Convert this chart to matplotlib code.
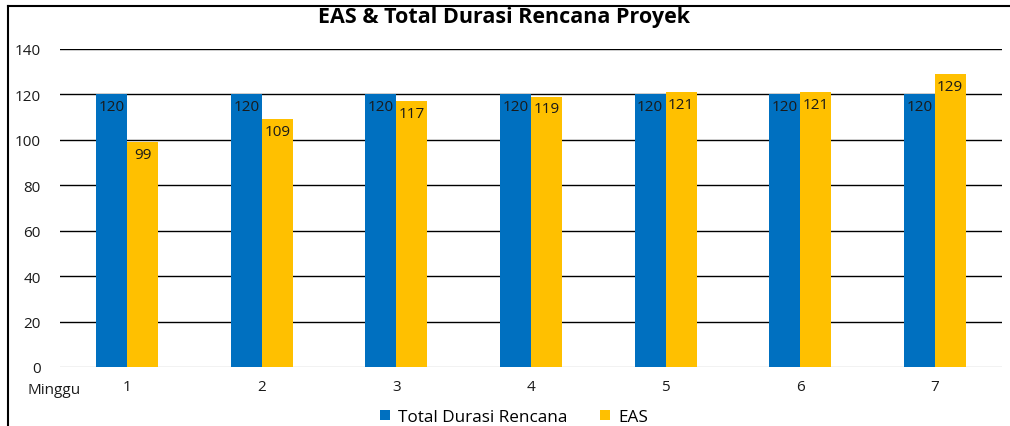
import numpy as np
import matplotlib.pyplot as plt
from matplotlib.lines import Line2D

plt.rcParams['font.family'] = ['Open Sans', 'DejaVu Sans']

minggu = ['1', '2', '3', '4', '5', '6', '7']
total_durasi = [120, 120, 120, 120, 120, 120, 120]
eas = [99, 109, 117, 119, 121, 121, 129]

blue = '#0070C0'
gold = '#FFC000'

fig = plt.figure(figsize=(10.1, 4.27), dpi=100)
ax = fig.add_axes([60 / 1010, 1 - 368 / 427, 942 / 1010, 318 / 427])

x = np.arange(len(minggu))
w = 0.23
b1 = ax.bar(x - w / 2, total_durasi, w, color=blue, zorder=3, label='Total Durasi Rencana')
b2 = ax.bar(x + w / 2, eas, w, color=gold, zorder=3, label='EAS')

for rect, v in zip(b1, total_durasi):
    ax.text(rect.get_x() + rect.get_width() / 2, v - 2.0, str(v), ha='center', va='top',
            fontsize=11, color='#1a1a1a', zorder=4)
for rect, v in zip(b2, eas):
    ax.text(rect.get_x() + rect.get_width() / 2, v - 2.0, str(v), ha='center', va='top',
            fontsize=11, color='#1a1a1a', zorder=4)

ax.set_xlim(-0.5, len(minggu) - 0.5)
ax.set_ylim(0, 140)
ax.set_yticks(range(0, 141, 20))
for yv in range(20, 141, 20):
    ax.axhline(yv, color='black', lw=1.0, zorder=1)
ax.axhline(0, color='#bfbfbf', lw=1.0, zorder=1)

for s in ax.spines.values():
    s.set_visible(False)
ax.tick_params(axis='both', length=0, labelsize=11, colors='#1a1a1a')
ax.tick_params(axis='y', pad=14)
ax.tick_params(axis='x', pad=9)
ax.set_xticks(x)
ax.set_xticklabels(minggu)

fig.text(54 / 1010, 1 - 391 / 427, 'Minggu', ha='center', va='center', fontsize=11, color='#1a1a1a')
fig.text(504 / 1010, 1 - 18 / 427, 'EAS & Total Durasi Rencana Proyek', ha='center', va='center',
         fontsize=15.5, fontweight='bold')

fig.legend(handles=[b1, b2], loc='center', bbox_to_anchor=(514 / 1010, 1 - 418 / 427), ncol=2,
           frameon=False, fontsize=12.3, handlelength=0.6, handleheight=0.6, columnspacing=1.9,
           handletextpad=0.45)

# outer frame
fig.add_artist(Line2D([8 / 1010, 8 / 1010], [0, 1 - 7 / 427], color='black', lw=1.5))
fig.add_artist(Line2D([8 / 1010, 1], [1 - 7 / 427, 1 - 7 / 427], color='black', lw=1.5))

fig.savefig('out.png', dpi=100)
